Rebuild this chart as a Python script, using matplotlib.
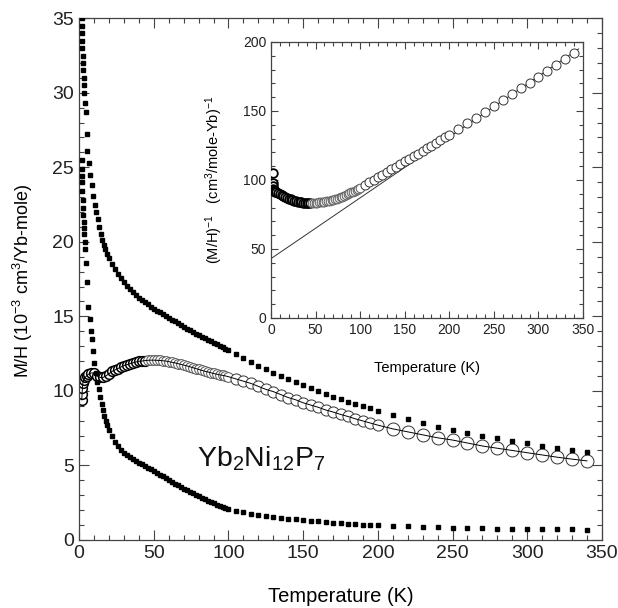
import matplotlib
matplotlib.use("Agg")
import matplotlib.pyplot as plt
from matplotlib.ticker import MultipleLocator

plt.rcParams['font.family'] = ['Liberation Sans', 'DejaVu Sans']
plt.rcParams['mathtext.fontset'] = 'custom'
plt.rcParams['mathtext.rm'] = 'Liberation Sans'
plt.rcParams['mathtext.it'] = 'Liberation Sans'

# ---- main panel: M/H (10^-3 cm^3/Yb-mole) vs T (K) ----
# upper filled series
T_hi = [1.8, 1.9, 2.0, 2.1, 2.2, 2.4, 2.6, 2.8, 3.0, 3.2, 3.5, 4.0, 4.5, 5.0, 5.5,
        6.5, 7.5, 8.5, 9.5, 10.5, 11.5, 12.5, 13.5, 14.5, 15.5, 16.5, 17.5, 18.5,
        20, 22, 24, 26, 28, 30, 32, 34, 36, 38, 40, 42, 44, 46, 48, 50, 52, 54, 56, 58,
        60, 62, 64, 66, 68, 70, 72, 74, 76, 78, 80, 82, 84, 86, 88, 90, 92, 94, 96, 98, 100,
        105, 110, 115, 120, 125, 130, 135, 140, 145, 150, 155, 160, 165, 170, 175, 180,
        185, 190, 195, 200,
        210, 220, 230, 240, 250, 260, 270, 280, 290, 300, 310, 320, 330, 340]
M_hi = [35.0, 34.5, 34.0, 33.5, 33.0, 32.5, 32.0, 31.5, 31.0, 30.5, 30.0, 29.3, 28.7, 27.2, 26.1,
        25.3, 24.5, 23.8, 23.1, 22.5, 22.0, 21.5, 21.0, 20.5, 20.1, 19.8, 19.5, 19.2,
        18.9, 18.5, 18.15, 17.85, 17.55, 17.3, 17.05, 16.85, 16.65, 16.45, 16.25, 16.1, 15.95,
        15.8, 15.65, 15.5, 15.38, 15.26, 15.14, 15.02,
        14.9, 14.78, 14.66, 14.54, 14.42, 14.3, 14.18, 14.06, 13.95, 13.84, 13.73, 13.62,
        13.52, 13.42, 13.32, 13.22, 13.12, 13.02, 12.92, 12.82, 12.72,
        12.45, 12.2, 11.95, 11.7, 11.45, 11.2, 11.0, 10.8, 10.6, 10.4, 10.2, 10.0, 9.8, 9.62,
        9.45, 9.28, 9.12, 8.97, 8.82, 8.68,
        8.35, 8.1, 7.85, 7.6, 7.4, 7.2, 7.0, 6.82, 6.65, 6.5, 6.33, 6.17, 6.02, 5.87]

# lower filled series
T_lo = [1.8, 1.9, 2.0, 2.1, 2.2, 2.4, 2.6, 2.8, 3.0, 3.2, 3.4, 3.7, 4.0, 4.5, 5.0,
        6, 7, 8, 8.5, 9, 10, 11, 12, 13, 14, 15, 16, 17, 18, 19,
        20, 22, 24, 26, 28, 30, 32, 34, 36, 38, 40, 42, 44, 46, 48, 50, 52, 54, 56, 58,
        60, 62, 64, 66, 68, 70, 72, 74, 76, 78, 80, 82, 84, 86, 88, 90, 92, 94, 96, 98, 100,
        105, 110, 115, 120, 125, 130, 135, 140, 145, 150, 155, 160, 165, 170, 175, 180,
        185, 190, 195, 200,
        210, 220, 230, 240, 250, 260, 270, 280, 290, 300, 310, 320, 330, 340]
M_lo = [25.5, 24.9, 24.4, 24.0, 23.4, 22.8, 22.3, 21.8, 21.3, 20.9, 20.5, 20.0, 19.5, 18.6, 17.3,
        15.6, 14.8, 14.0, 13.5, 12.7, 11.9, 11.2, 10.6, 10.1, 9.6, 9.1, 8.7, 8.3, 8.0, 7.7,
        7.4, 6.95, 6.6, 6.3, 6.05, 5.85, 5.7, 5.55, 5.45, 5.3, 5.18, 5.06, 4.95, 4.84, 4.73,
        4.62, 4.5, 4.38, 4.26, 4.14,
        4.02, 3.9, 3.78, 3.66, 3.55, 3.44, 3.33, 3.22, 3.12, 3.02, 2.92, 2.82, 2.72, 2.63,
        2.54, 2.45, 2.37, 2.29, 2.21, 2.14, 2.07,
        1.95, 1.85, 1.77, 1.69, 1.62, 1.55, 1.49, 1.43, 1.38, 1.33, 1.28, 1.24, 1.2, 1.16,
        1.12, 1.09, 1.06, 1.03, 1.0, 0.97,
        0.93, 0.9, 0.87, 0.84, 0.82, 0.8, 0.78, 0.76, 0.74, 0.73, 0.72, 0.71, 0.7, 0.69]

# open-circle series
T_circ = [1.8, 2.0, 2.2, 2.5, 3, 4, 5, 6, 8, 10, 12, 14, 16, 18,
          20, 22, 24, 26, 28, 30, 32, 34, 36, 38, 40, 42, 44, 46, 48, 50, 52, 54, 56, 58,
          60, 62, 64, 66, 68, 70, 72, 74, 76, 78, 80, 82, 84, 86, 88, 90, 92, 94, 96, 98, 100,
          105, 110, 115, 120, 125, 130, 135, 140, 145, 150, 155, 160, 165, 170, 175, 180,
          185, 190, 195, 200,
          210, 220, 230, 240, 250, 260, 270, 280, 290, 300, 310, 320, 330, 340]
M_circ = [9.4, 9.8, 10.2, 10.5, 10.75, 10.9, 11.0, 11.1, 11.2, 11.2, 11.0, 10.9, 10.9, 11.0,
          11.15, 11.3, 11.4, 11.5, 11.6, 11.7, 11.75, 11.82, 11.88, 11.94, 11.98, 12.0, 12.03,
          12.05, 12.06, 12.06, 12.05, 12.04, 12.02, 12.0,
          11.96, 11.92, 11.88, 11.83, 11.78, 11.73, 11.68, 11.62, 11.56, 11.5, 11.44, 11.38,
          11.32, 11.27, 11.22, 11.17, 11.12, 11.08, 11.04, 11.0, 10.95,
          10.8, 10.65, 10.5, 10.3, 10.1, 9.95, 9.75, 9.55, 9.4, 9.2, 9.05, 8.9, 8.72, 8.58,
          8.42, 8.28, 8.12, 7.98, 7.84, 7.7,
          7.45, 7.25, 7.05, 6.85, 6.7, 6.5, 6.3, 6.15, 6.0, 5.85, 5.7, 5.55, 5.42, 5.3]

# ---- inset: (M/H)^-1 (cm^3/mole-Yb)^-1 vs T (K) ----
T_inv = [1.8, 2.0, 2.3, 2.6, 3, 3.5, 4, 5, 6, 8, 10, 12, 14, 16, 18,
         20, 22, 24, 26, 28, 30, 32, 34, 36, 38, 40, 42, 44, 46, 48, 50, 52, 54, 56, 58,
         60, 62, 64, 66, 68, 70, 72, 74, 76, 78, 80, 82, 84, 86, 88, 90, 92, 94, 96, 98, 100,
         105, 110, 115, 120, 125, 130, 135, 140, 145, 150, 155, 160, 165, 170, 175, 180,
         185, 190, 195, 200,
         210, 220, 230, 240, 250, 260, 270, 280, 290, 300, 310, 320, 330, 340]
inv_circ = [105, 98, 95.5, 93.5, 92.5, 92, 91.7, 91.5, 91.2, 90.6, 90, 89.3, 88.5, 87.8, 87.1,
            86.5, 85.9, 85.4, 84.9, 84.5, 84.2, 83.9, 83.7, 83.5, 83.4, 83.3, 83.3, 83.3, 83.3,
            83.4, 83.5, 83.6, 83.7, 83.8, 84.0,
            84.2, 84.4, 84.7, 85.0, 85.3, 85.7, 86.1, 86.5, 87.0, 87.5, 88.0, 88.5, 89.1, 89.7,
            90.3, 91.0, 91.6, 92.3, 93.0, 93.7, 94.4,
            96.3, 98.2, 100.1, 102, 103.9, 105.8, 107.7, 109.6, 111.5, 113.4, 115.3, 117.2,
            119.1, 121, 123, 124.9, 126.9, 128.9, 130.9, 132.9,
            136.9, 141, 145.2, 149.4, 153.6, 157.8, 162, 166.3, 170.6, 174.9, 179.2, 183.5,
            187.8, 192.1]

# Curie-Weiss fit line
fit_T = [0, 345]
fit_inv = [43, 195]


def style_axes(ax, xmaj, xmin, ymaj, ymin, size, length):
    ax.xaxis.set_major_locator(MultipleLocator(xmaj))
    ax.xaxis.set_minor_locator(MultipleLocator(xmin))
    ax.yaxis.set_major_locator(MultipleLocator(ymaj))
    ax.yaxis.set_minor_locator(MultipleLocator(ymin))
    ax.tick_params(which='both', direction='in', top=True, right=True,
                   labelsize=size, color='#444444', width=0.8, labelcolor='#222222')
    ax.tick_params(which='major', length=length)
    ax.tick_params(which='minor', length=length * 0.55)
    for s in ax.spines.values():
        s.set_color('#444444')
        s.set_linewidth(0.9)


def split(T, vals, lo, hi):
    idx = [i for i, t in enumerate(T) if lo <= t < hi]
    return [T[i] for i in idx], [vals[i] for i in idx]


fig = plt.figure(figsize=(6.18, 6.08), dpi=100)
ax = fig.add_axes([0.128, 0.112, 0.846, 0.858])

# open circles: dense low-T part reads dark, sparser part lighter
for lo, hi, ms, mec, mew in [(0, 46, 7.0, 'black', 1.1), (46, 101, 7.0, '#555555', 0.7),
                             (101, 201, 8.0, '#333333', 0.7), (201, 400, 9.3, '#333333', 0.7)]:
    tt, vv = split(T_circ, M_circ, lo, hi)
    ax.plot(tt, vv, ls='none', marker='o', ms=ms, mfc='white', mec=mec, mew=mew, zorder=2)
ax.plot(T_circ, M_circ, color='black', lw=0.7, zorder=2.5)
ax.plot(T_hi, M_hi, ls='none', marker='s', ms=3.0, color='black', zorder=3)
ax.plot(T_lo, M_lo, ls='none', marker='s', ms=3.0, color='black', zorder=3)

ax.set_xlim(0, 350)
ax.set_ylim(0, 35)
style_axes(ax, 50, 10, 5, 1, 14, 7)
ax.set_xlabel('Temperature (K)', fontsize=14.5)
ax.xaxis.set_label_coords(0.5, -0.09)
ax.set_ylabel('M/H (10$^{-3}$ cm$^{3}$/Yb-mole)', fontsize=13)
ax.yaxis.set_label_coords(-0.084, 0.497)
ax.text(122, 4.9, 'Yb$_2$Ni$_{12}$P$_7$', fontsize=20.5, ha='center', va='baseline',
        color='#111111')

# inset
axi = fig.add_axes([0.4385, 0.477, 0.505, 0.454])
axi.plot(fit_T, fit_inv, color='#333333', lw=0.7, zorder=2)
for lo, hi, ms, mec, mew in [(0, 46, 6.2, 'black', 1.3), (46, 101, 6.2, '#666666', 0.8),
                             (101, 400, 6.5, '#333333', 0.7)]:
    tt, vv = split(T_inv, inv_circ, lo, hi)
    axi.plot(tt, vv, ls='none', marker='o', ms=ms, mfc='white', mec=mec, mew=mew, zorder=3)
axi.set_xlim(0, 350)
axi.set_ylim(0, 200)
style_axes(axi, 50, 10, 50, 10, 10, 5)
axi.set_xlabel('Temperature (K)', fontsize=10.5)
axi.xaxis.set_label_coords(0.5, -0.155)
axi.set_ylabel('(M/H)$^{-1}$   (cm$^3$/mole-Yb)$^{-1}$', fontsize=10.5)
axi.yaxis.set_label_coords(-0.147, 0.5)

fig.savefig('out.png', dpi=100)
